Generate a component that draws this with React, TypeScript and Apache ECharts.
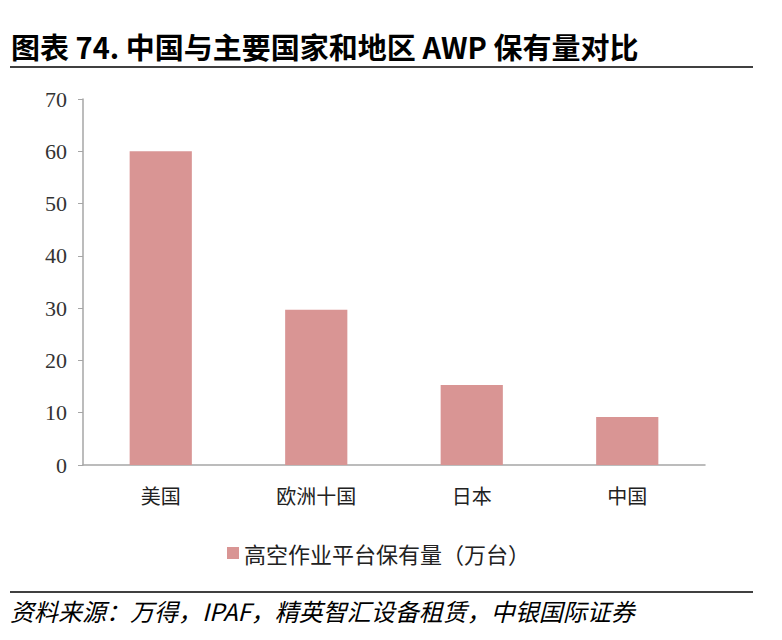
import React, { useEffect, useRef } from "react";
import * as echarts from "echarts";

const categories = ["美国", "欧洲十国", "日本", "中国"];
const awpValues = [60, 29.7, 15.3, 9.2];
const seriesName = "高空作业平台保有量（万台）";
const yTicks = { min: 0, max: 70, interval: 10 };

export default function App() {
  const ref = useRef<HTMLDivElement>(null);
  useEffect(() => {
    document.body.style.margin = "0";
    if (!ref.current) return;
    const chart = echarts.init(ref.current, undefined, { renderer: "svg" });
    chart.setOption({
      animation: false,
      backgroundColor: "#ffffff",
      title: {
        text: "图表 74. 中国与主要国家和地区 AWP 保有量对比",
        left: 6,
        top: 26,
        textStyle: {
          fontFamily: "'Noto Sans CJK SC', sans-serif",
          fontSize: 29,
          fontWeight: "bold",
          color: "#000",
        },
      },
      graphic: [
        {
          type: "line",
          shape: { x1: 10, y1: 67, x2: 753, y2: 67 },
          style: { stroke: "#000", lineWidth: 1.5 },
        },
        {
          type: "line",
          shape: { x1: 10, y1: 592, x2: 753, y2: 592 },
          style: { stroke: "#000", lineWidth: 1.5 },
        },
        {
          type: "text",
          left: 10,
          top: 598,
          style: {
            text: "资料来源：万得，IPAF，精英智汇设备租赁，中银国际证券",
            font: "italic 24px 'Noto Sans CJK SC', sans-serif",
            fill: "#000",
          },
        },
      ],
      legend: {
        data: [seriesName],
        left: 222,
        top: 537,
        itemWidth: 12,
        itemHeight: 12,
        itemGap: 4,
        icon: "rect",
        textStyle: {
          fontFamily: "'Noto Sans CJK SC', serif",
          fontSize: 22,
          color: "#222",
        },
      },
      grid: { left: 83, right: 77, top: 99, bottom: 175, containLabel: false },
      xAxis: {
        type: "category",
        data: categories,
        axisLine: { lineStyle: { color: "#a6a6a6", width: 1.5 } },
        axisTick: { show: false },
        axisLabel: {
          margin: 20,
          fontFamily: "'Noto Sans CJK SC', serif",
          fontSize: 20,
          color: "#222",
        },
      },
      yAxis: {
        type: "value",
        min: yTicks.min,
        max: yTicks.max,
        interval: yTicks.interval,
        axisLine: { show: true, lineStyle: { color: "#a6a6a6", width: 1.5 } },
        axisTick: { show: true, length: 5, lineStyle: { color: "#a6a6a6" } },
        splitLine: { show: false },
        axisLabel: {
          margin: 16,
          fontFamily: "'Liberation Serif', serif",
          fontSize: 22,
          color: "#333",
        },
      },
      series: [
        {
          name: seriesName,
          type: "bar",
          data: awpValues,
          barWidth: "40%",
          itemStyle: { color: "#D99594" },
        },
      ],
    });
    return () => chart.dispose();
  }, []);
  return <div ref={ref} style={{ width: 782, height: 640 }} />;
}
